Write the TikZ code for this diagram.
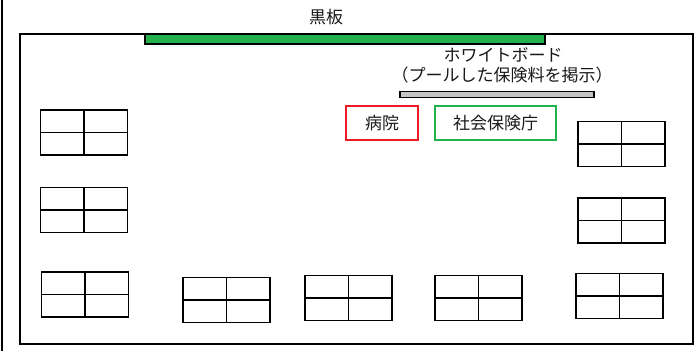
\documentclass[tikz,border=0pt]{standalone}
\usepackage{fontspec}
\newfontfamily\jp{Noto Sans CJK JP}
\definecolor{bbgreen}{RGB}{34,177,76}
\definecolor{boxred}{RGB}{237,28,36}
\begin{document}
\begin{tikzpicture}[x=1pt,y=-1pt,
  desk/.style={draw=black,line width=1.2pt,minimum width=87pt,minimum height=45pt,inner sep=0pt},
  label/.style={font=\jp\fontsize{17}{20}\selectfont,text=black!90,inner sep=0pt},
  tagbox/.style={line width=2pt,inner sep=0pt,font=\jp\fontsize{17}{20}\selectfont,text=black!90}]
\useasboundingbox (0,0) rectangle (695,351);
\fill[white] (0,0) rectangle (695,351);
% outer line
\draw[line width=1.5pt] (2,0) -- (2,351);
% classroom
\node[draw,line width=2pt,minimum width=673pt,minimum height=310pt,inner sep=0pt] (room) at (356,189) {};
% blackboard
\node[draw=black,fill=bbgreen,line width=1.5pt,minimum width=400pt,minimum height=10pt,inner sep=0pt] (bb) at (345,39) {};
\node[label] (bblabel) at (326,17) {黒板};
% whiteboard
\node[draw=black,fill=gray!45,line width=1.3pt,minimum width=194pt,minimum height=5.5pt,inner sep=0pt] (wb) at (497,94.5) {};
\node[label] (wb1) at (503,55) {ホワイトボード};
\node[label] (wb2) at (502,75) {（プールした保険料を掲示）};
% hospital and agency
\node[tagbox,draw=boxred,minimum width=72pt,minimum height=34pt] (hosp) at (382,123) {病院};
\node[tagbox,draw=bbgreen,minimum width=121pt,minimum height=34pt] (sia) at (495.5,123) {社会保険庁};
% desks
\foreach \n/\x/\y in {d1/84/132.5, d2/84/210, d3/85/294.5,
  d4/226.5/300, d5/348.5/298, d6/478.5/298, d7/619.5/296,
  d8/621.5/144, d9/621.5/220.5}{
  \node[desk] (\n) at (\x,\y) {};
  \draw[line width=1.2pt] (\n.north) -- (\n.south);
  \draw[line width=1.2pt] (\n.west) -- (\n.east);
}
\end{tikzpicture}
\end{document}
